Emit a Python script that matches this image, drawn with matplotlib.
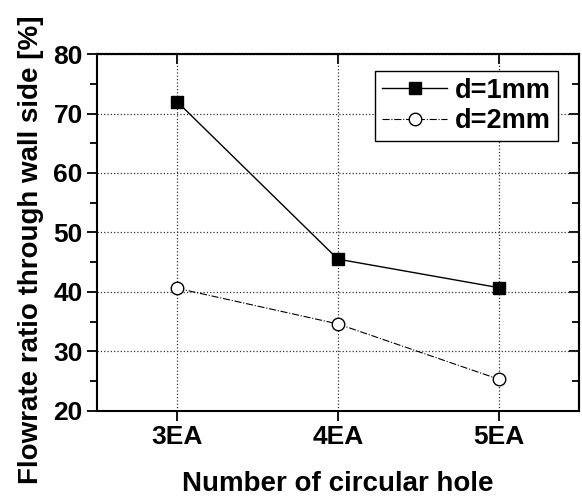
import matplotlib
matplotlib.use("Agg")
import matplotlib.pyplot as plt
from matplotlib.ticker import MultipleLocator

plt.rcParams['font.family'] = ['Liberation Sans', 'DejaVu Sans']
plt.rcParams['font.weight'] = 'bold'

categories = ["3EA", "4EA", "5EA"]
d1_values = [72.0, 45.5, 40.7]
d2_values = [40.6, 34.6, 25.3]
series_labels = ["d=1mm", "d=2mm"]

fig = plt.figure(figsize=(5.82, 4.96), dpi=100)
ax = fig.add_axes([0.166, 0.172, 0.829, 0.719])

x = list(range(len(categories)))
ax.plot(x, d1_values, color='black', lw=1.0, ls='-', marker='s', ms=8,
        mfc='black', mec='black', label=series_labels[0], zorder=3)
ax.plot(x, d2_values, color='black', lw=0.8, ls='-.', marker='o', ms=9,
        mfc='white', mec='black', mew=1.0, label=series_labels[1], zorder=3)

ax.set_xlim(-0.5, 2.5)
ax.set_ylim(20, 80)
ax.set_xticks(x)
ax.set_xticklabels(categories)
ax.yaxis.set_major_locator(MultipleLocator(10))
ax.yaxis.set_minor_locator(MultipleLocator(5))

ax.grid(True, which='major', ls=':', color='#333333', lw=0.9)
ax.set_axisbelow(True)

for s in ax.spines.values():
    s.set_linewidth(1.5)

ax.tick_params(axis='both', which='major', direction='out', length=7, width=1.3,
               labelsize=19, pad=3)
ax.tick_params(axis='y', which='minor', direction='out', length=5, width=1.3)
# mirrored inward ticks on top and right
axt = ax.secondary_xaxis('top')
axt.set_xticks(x)
axt.tick_params(direction='in', length=7, width=1.3, labeltop=False)
axt.set_xticklabels([])
axr = ax.secondary_yaxis('right')
axr.yaxis.set_major_locator(MultipleLocator(10))
axr.yaxis.set_minor_locator(MultipleLocator(5))
axr.tick_params(which='major', direction='in', length=7, width=1.3)
axr.tick_params(which='minor', direction='in', length=5, width=1.3)
axr.set_yticklabels([])
for a in (axt, axr):
    for s in a.spines.values():
        s.set_linewidth(1.5)

for lab in ax.get_xticklabels() + ax.get_yticklabels():
    lab.set_fontweight('bold')

ax.set_xlabel("Number of circular hole", fontsize=20, fontweight='bold', labelpad=16)
ax.set_ylabel("Flowrate ratio through wall side [%]", fontsize=20, fontweight='bold')
ax.yaxis.set_label_coords(-0.110, 0.45)

leg = ax.legend(loc='upper right', bbox_to_anchor=(0.956, 0.952), fontsize=19.5,
                frameon=True, fancybox=False, edgecolor='black', framealpha=1,
                borderaxespad=0, handlelength=2.4, handletextpad=0.3,
                borderpad=0.25, labelspacing=0.15)
leg.get_frame().set_linewidth(1.0)
for t in leg.get_texts():
    t.set_fontweight('bold')

fig.savefig("out.png", dpi=100)
